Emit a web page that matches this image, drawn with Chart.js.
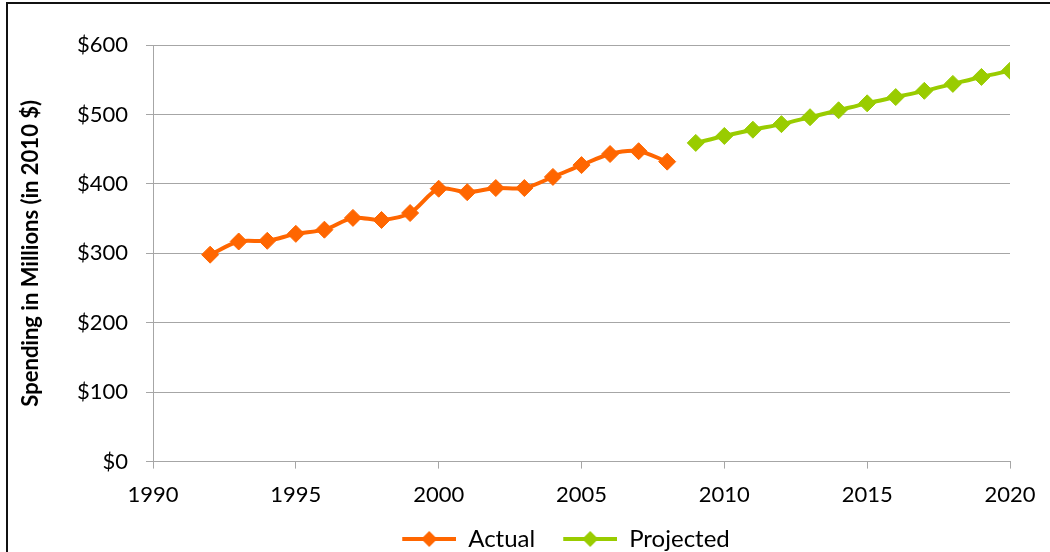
<!DOCTYPE html>
<html>
<head>
<meta charset="utf-8">
<script src="https://cdn.jsdelivr.net/npm/chart.js@4"></script>
<style>
  html, body { margin: 0; padding: 0; background: #fff; }
  #wrap { position: relative; width: 1050px; height: 552px; overflow: hidden; }
  #frame { position: absolute; left: 6px; top: 2px; width: 1100px; height: 600px; border-left: 2px solid #111; border-top: 2px solid #111; }
  canvas { position: absolute; left: 0; top: 0; }
</style>
</head>
<body>
<div id="wrap">
  <div id="frame"></div>
  <canvas id="chart" width="1050" height="552"></canvas>
</div>
<script>
const actualYears = [1992, 1993, 1994, 1995, 1996, 1997, 1998, 1999, 2000, 2001, 2002, 2003, 2004, 2005, 2006, 2007, 2008];
const actualValues = [298, 317, 318, 328, 334, 351, 348, 358, 393, 388, 394, 394, 410, 427, 443, 447, 432];
const projectedYears = [2009, 2010, 2011, 2012, 2013, 2014, 2015, 2016, 2017, 2018, 2019, 2020];
const projectedValues = [459, 469, 478, 486, 496, 506, 516, 525, 534, 544, 554, 563];
const seriesNames = ['Actual', 'Projected'];

const ORANGE = '#ff6600';
const GREEN = '#99cc00';
const GRID = '#a6a6a6';
const FONT = 'Lato, "DejaVu Sans", sans-serif';

// legend swatch: line with a diamond in the middle, blank margin on the left
function swatch(color) {
  const m = 22;
  const c = document.createElement('canvas');
  c.width = 54 + m; c.height = 16;
  const g = c.getContext('2d');
  g.strokeStyle = color;
  g.lineWidth = 4;
  g.beginPath(); g.moveTo(m, 8); g.lineTo(m + 54, 8); g.stroke();
  g.fillStyle = color;
  g.beginPath(); g.moveTo(m + 27, 0); g.lineTo(m + 35, 8); g.lineTo(m + 27, 16); g.lineTo(m + 19, 8); g.closePath(); g.fill();
  return c;
}

const toPoints = (xs, ys) => xs.map((x, i) => ({ x, y: ys[i] }));

// the legend in the original sits a bit right of the canvas centre
const shiftLegend = {
  id: 'shiftLegend',
  afterLayout(chart) {
    chart.legend.left += 50;
    chart.legend.right += 50;
  }
};

new Chart(document.getElementById('chart'), {
  type: 'line',
  data: {
    datasets: [
      {
        label: seriesNames[0],
        data: toPoints(actualYears, actualValues),
        borderColor: ORANGE,
        backgroundColor: ORANGE,
        borderWidth: 4,
        tension: 0.3,
        pointStyle: 'rectRot',
        pointRadius: 8.5,
        pointBorderWidth: 1,
        legendSwatch: swatch(ORANGE)
      },
      {
        label: seriesNames[1],
        data: toPoints(projectedYears, projectedValues),
        borderColor: GREEN,
        backgroundColor: GREEN,
        borderWidth: 4,
        tension: 0.3,
        pointStyle: 'rectRot',
        pointRadius: 8.5,
        pointBorderWidth: 1,
        legendSwatch: swatch(GREEN)
      }
    ]
  },
  options: {
    responsive: false,
    animation: false,
    layout: { padding: { left: 0, right: 40, top: 45, bottom: -9 } },
    plugins: {
      tooltip: { enabled: false },
      legend: {
        position: 'bottom',
        labels: {
          color: '#000',
          font: { family: FONT, size: 24 },
          usePointStyle: true,
          pointStyleWidth: 76,
          padding: 6,
          generateLabels(chart) {
            return chart.data.datasets.map((ds, i) => ({
              text: ds.label,
              pointStyle: ds.legendSwatch,
              fillStyle: ds.borderColor,
              strokeStyle: ds.borderColor,
              lineWidth: 0,
              datasetIndex: i,
              fontColor: '#000'
            }));
          }
        }
      }
    },
    scales: {
      x: {
        type: 'linear',
        min: 1990,
        max: 2020,
        ticks: { stepSize: 5, color: '#000', font: { family: FONT, size: 22 }, padding: 13, callback: v => String(v) },
        grid: { drawOnChartArea: false, drawTicks: true, tickLength: 7, color: GRID },
        border: { color: GRID, width: 1 }
      },
      y: {
        min: 0,
        max: 600,
        afterFit(scale) { scale.width = 153; },
        ticks: { stepSize: 100, color: '#000', font: { family: FONT, size: 22 }, padding: 18, callback: v => '$' + v },
        grid: { color: GRID, tickLength: 7 },
        border: { color: GRID, width: 1 },
        title: {
          display: true,
          text: 'Spending in Millions (in 2010 $)',
          color: '#000',
          font: { family: FONT, size: 22, weight: 'bold' },
          padding: { top: 18, bottom: 0 }
        }
      }
    }
  },
  plugins: [shiftLegend]
});
</script>
</body>
</html>
